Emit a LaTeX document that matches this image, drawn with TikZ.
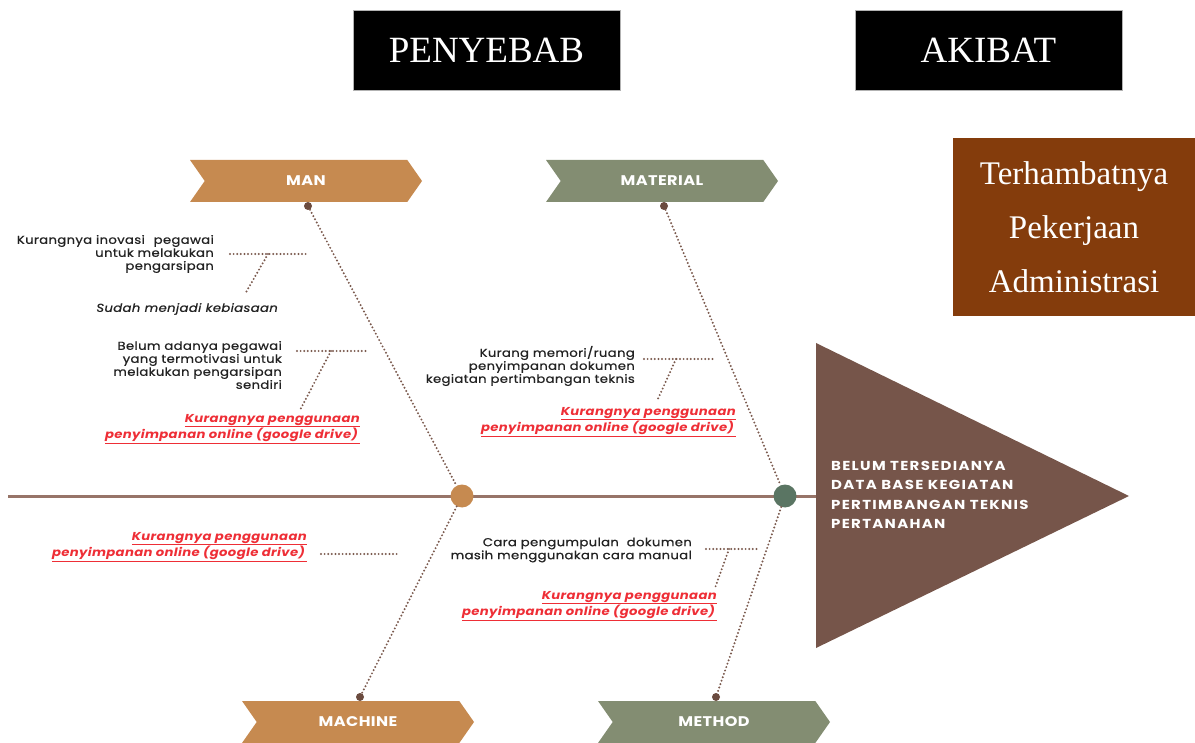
\documentclass[tikz,border=0pt]{standalone}
\usepackage{fontspec}
\setmainfont{Liberation Serif}
\newfontfamily\causefont[FakeStretch=1.15,LetterSpace=3,FakeBold=0.8]{Poppins}
\newfontfamily\bonefont[FakeStretch=1.15,LetterSpace=3]{Poppins}
\newfontfamily\problemfont[FakeStretch=1.15,LetterSpace=10]{Poppins}
\usetikzlibrary{shapes.symbols,positioning}

\definecolor{manorange}{HTML}{C68A50}
\definecolor{matgreen}{HTML}{838D72}
\definecolor{spinebrown}{HTML}{977468}
\definecolor{bonebrown}{HTML}{7B5A4E}
\definecolor{dotbrown}{HTML}{6B4B3F}
\definecolor{jointgreen}{HTML}{5A7563}
\definecolor{headbrown}{HTML}{76554A}
\definecolor{effectbrown}{HTML}{843C0C}
\definecolor{causered}{HTML}{EE2E36}
\definecolor{causetext}{HTML}{222222}

\begin{document}
\begin{tikzpicture}[x=1pt,y=-1pt,
    title/.style={fill=black,draw=gray!60,minimum width=267pt,minimum height=80pt,
                  text=white,font=\fontsize{37}{40}\selectfont},
    chevron/.style={signal,signal to=east,signal from=west,signal pointer angle=110,
                    minimum width=232pt,minimum height=42pt,inner sep=0pt,text=white,
                    font=\bonefont\bfseries\fontsize{14}{16}\selectfont},
    anchordot/.style={circle,fill=dotbrown,minimum size=8pt,inner sep=0pt},
    joint/.style={circle,minimum size=23pt,inner sep=0pt},
    bone/.style={draw=bonebrown,line width=2.2pt,line cap=round,dash pattern=on 0pt off 3.6pt},
    cause/.style={anchor=east,align=right,inner sep=0pt,text=causetext,
                  font=\causefont\fontsize{11.5}{13}\selectfont},
    rootcause/.style={cause,text=causered,font=\bonefont\bfseries\itshape\fontsize{11.5}{14}\selectfont}]

\useasboundingbox (0,0) rectangle (1195,743);

% headers
\node[title] (penyebab) at (486.5,50) {PENYEBAB};
\node[title] (akibat) at (988.5,50) {AKIBAT};
\node[fill=effectbrown,minimum width=242pt,minimum height=178pt,align=center,text=white,
      font=\fontsize{33}{54}\selectfont] (effect) at (1074,227)
      {Terhambatnya\\Pekerjaan\\Administrasi};

% head of the fish
\fill[headbrown] (816,343) -- (1129,496) -- (816,648) -- cycle;
\coordinate (tail) at (8,496);
\coordinate (headbase) at (816,496);
\draw[spinebrown,line width=3pt] (tail) -- (headbase);
\node[anchor=west,align=left,text=white,inner sep=0pt,
      font=\problemfont\bfseries\fontsize{13}{19.5}\selectfont] (problem) at (831,495)
      {BELUM TERSEDIANYA\\DATA BASE KEGIATAN\\PERTIMBANGAN TEKNIS\\PERTANAHAN};

% categories
\node[chevron,fill=manorange] (man) at (306,181) {MAN};
\node[chevron,fill=matgreen] (material) at (662,181) {MATERIAL};
\node[chevron,fill=manorange] (machine) at (358,722) {MACHINE};
\node[chevron,fill=matgreen] (method) at (714,722) {METHOD};

\node[anchordot] (mandot) at (308,206) {};
\node[anchordot] (matdot) at (664,206) {};
\node[anchordot] (macdot) at (360,697) {};
\node[anchordot] (metdot) at (716,697) {};

\node[joint,fill=manorange] (jointa) at (462,496) {};
\node[joint,fill=jointgreen] (jointb) at (785,496) {};

\draw[bone] (mandot) -- (jointa);
\draw[bone] (jointa) -- (macdot);
\draw[bone] (matdot) -- (jointb);
\draw[bone] (jointb) -- (metdot);

% man
\coordinate (m1a) at (230,254);
\coordinate (m1b) at (306,254);
\coordinate (m1c) at (268,254);
\coordinate (m1d) at (245,294);
\draw[bone] (m1a) -- (m1b);
\draw[bone] (m1c) -- (m1d);
\node[cause] (man1) at (214,254)
      {Kurangnya inovasi\hspace{5pt} pegawai\\untuk melakukan\\pengarsipan};
\node[cause,font=\causefont\itshape\fontsize{11.5}{13}\selectfont] (man1why) at (278,309)
      {Sudah menjadi kebiasaan};

\coordinate (m2a) at (297,351);
\coordinate (m2b) at (366,351);
\coordinate (m2c) at (331,351);
\coordinate (m2d) at (300,410);
\draw[bone] (m2a) -- (m2b);
\draw[bone] (m2c) -- (m2d);
\node[cause] (man2) at (282,365)
      {Belum adanya pegawai\\yang termotivasi untuk\\melakukan pengarsipan\\sendiri};
\node[rootcause] (man2why) at (360,429)
      {\underline{Kurangnya penggunaan}\\\underline{penyimpanan online (google drive)\,}};

% material
\coordinate (t1a) at (644,359);
\coordinate (t1b) at (713,359);
\coordinate (t1c) at (676,359);
\coordinate (t1d) at (657,401);
\draw[bone] (t1a) -- (t1b);
\draw[bone] (t1c) -- (t1d);
\node[cause] (mat1) at (635,366)
      {Kurang memori/ruang\\penyimpanan dokumen\\kegiatan pertimbangan teknis};
\node[rootcause] (mat1why) at (736,422)
      {\underline{Kurangnya penggunaan}\\\underline{penyimpanan online (google drive)\,}};

% machine
\coordinate (k1a) at (321,554);
\coordinate (k1b) at (399,554);
\draw[bone] (k1a) -- (k1b);
\node[rootcause] (mac1) at (307,547)
      {\underline{Kurangnya penggunaan}\\\underline{penyimpanan online (google drive)\,}};

% method
\coordinate (d1a) at (706,549);
\coordinate (d1b) at (759,549);
\coordinate (d1c) at (729,549);
\coordinate (d1d) at (715,588);
\draw[bone] (d1a) -- (d1b);
\draw[bone] (d1c) -- (d1d);
\node[cause] (met1) at (692,550)
      {Cara pengumpulan\hspace{4pt} dokumen\\masih menggunakan cara manual};
\node[rootcause] (met1why) at (717,606)
      {\underline{Kurangnya penggunaan}\\\underline{penyimpanan online (google drive)\,}};

\end{tikzpicture}
\end{document}
